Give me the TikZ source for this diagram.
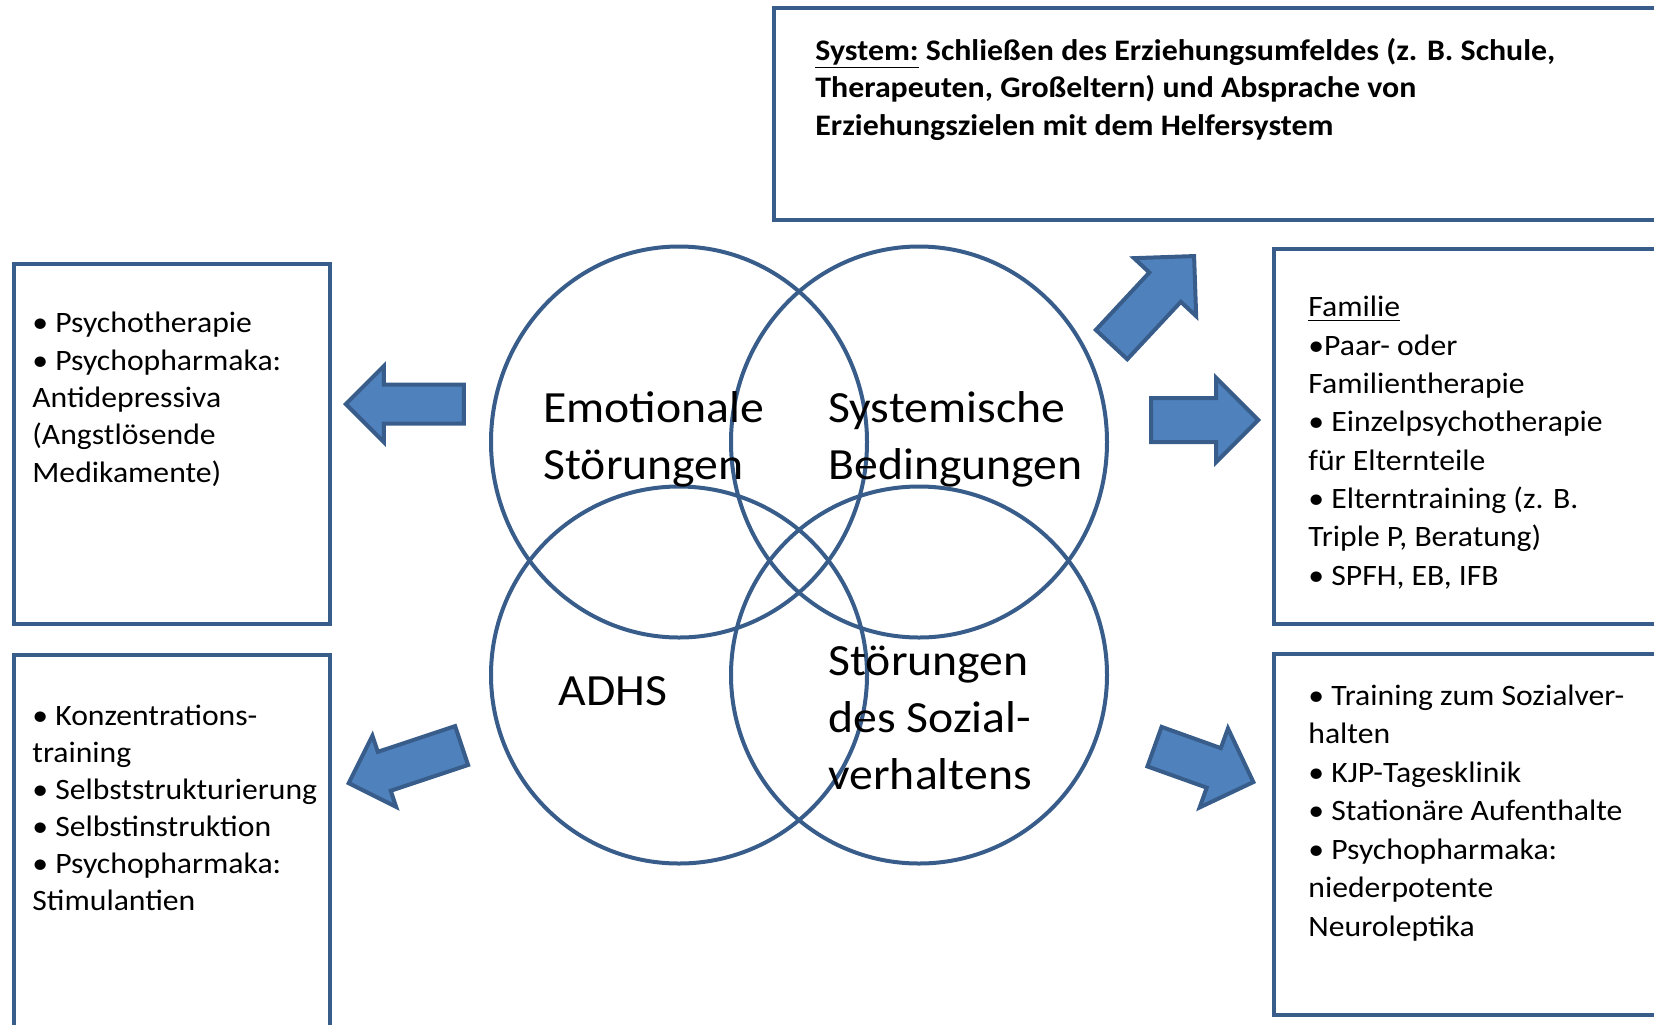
\documentclass[tikz,border=0pt]{standalone}
\usepackage{fontspec}
\setmainfont{Carlito}[FakeStretch=1.07]
\usetikzlibrary{positioning,shapes.geometric,shapes.arrows}
\definecolor{ringblue}{RGB}{56,93,138}
\definecolor{arrowblue}{RGB}{79,129,189}

\begin{document}
\begin{tikzpicture}[x=0.5pt,y=-0.5pt,
  ring/.style = {draw=ringblue, line width=2pt, ellipse, minimum width=188pt, inner sep=0pt},
  ringlabel/.style = {font=\fontsize{22.3pt}{28.5pt}\selectfont, align=left, anchor=base west, inner sep=0pt},
  frame/.style = {draw=ringblue, line width=2pt, anchor=north west, inner sep=0pt},
  itemtext/.style = {font=\fontsize{14.8pt}{#1}\selectfont, align=left, anchor=base west, inner sep=0pt},
  bigarrow/.style = {single arrow, draw=ringblue, fill=arrowblue, line width=2pt, inner xsep=0pt, anchor=tip}
]
\useasboundingbox (0,0) rectangle (1654,1024);
\clip (0,0) rectangle (1654,1024);

% the four circles
\node[ring, minimum height=195.5pt] (emo) at (679,442) {};
\node[ring, minimum height=195.5pt] (sys) at (919,442) {};
\node[ring, minimum height=188.5pt] (adhs) at (679,675) {};
\node[ring, minimum height=188.5pt] (soz) at (919,675) {};

% labels sit on the baseline of their last line
\node[ringlabel] (emolabel) at (543,479) {Emotionale\\Störungen};
\node[ringlabel] (syslabel) at (828,479) {Systemische\\Bedingungen};
\node[ringlabel] (adhslabel) at (558,705) {ADHS};
\node[ringlabel] (sozlabel) at (828,789) {Störungen\\des Sozial-\\verhaltens};

% boxes
\node[frame, minimum width=454pt, minimum height=106pt] (sysbox) at (772,6) {};
\node[frame, minimum width=158pt, minimum height=180pt] (emobox) at (12,262) {};
\node[frame, minimum width=158pt, minimum height=190pt] (adhsbox) at (12,653) {};
\node[frame, minimum width=204pt, minimum height=187.5pt] (fambox) at (1272,247) {};
\node[frame, minimum width=204pt, minimum height=180.5pt] (sozbox) at (1272,652) {};

\node[itemtext, font=\fontsize{14.9pt}{18.75pt}\selectfont\bfseries] (systext) at (815,135)
  {\underline{System:} Schließen des Erziehungsumfeldes (z. B. Schule,\\
   Therapeuten, Großeltern) und Absprache von\\
   Erziehungszielen mit dem Helfersystem};
\node[itemtext=18.65pt] (emotext) at (32,482)
  {• Psychotherapie\\• Psychopharmaka:\\Antidepressiva\\(Angstlösende\\Medikamente)};
\node[itemtext=18.5pt] (adhstext) at (32,910)
  {• Konzentrations-\\training\\• Selbststrukturierung\\• Selbstinstruktion\\• Psychopharmaka:\\Stimulantien};
\node[itemtext=19.15pt] (famtext) at (1308,585)
  {\underline{Familie}\\•Paar- oder\\Familientherapie\\• Einzelpsychotherapie\\für Elternteile\\• Elterntraining (z. B.\\Triple P, Beratung)\\• SPFH, EB, IFB};
\node[itemtext=19.25pt] (soztext) at (1308,936)
  {• Training zum Sozialver-\\halten\\• KJP-Tagesklinik\\• Stationäre Aufenthalte\\• Psychopharmaka:\\niederpotente\\Neuroleptika};

% block arrows
\node[bigarrow, minimum height=59pt, minimum width=36pt, inner ysep=8.75pt, single arrow head extend=9.25pt, rotate=180] (toemo) at (343,404) {};
\node[bigarrow, minimum height=59.5pt, minimum width=35.5pt, inner ysep=9.25pt, single arrow head extend=8.5pt, rotate=198.4] (toadhs) at (346,784) {};
\node[bigarrow, minimum height=60.5pt, minimum width=40.5pt, inner ysep=9.75pt, single arrow head extend=10.5pt, rotate=47] (tosys) at (1196,254) {};
\node[bigarrow, minimum height=53.5pt, minimum width=40pt, inner ysep=10pt, single arrow head extend=10pt] (tofam) at (1261,420) {};
\node[bigarrow, minimum height=52.5pt, minimum width=40pt, inner ysep=9.5pt, single arrow head extend=10.5pt, rotate=-19.7] (tosoz) at (1256,783) {};
\end{tikzpicture}
\end{document}
